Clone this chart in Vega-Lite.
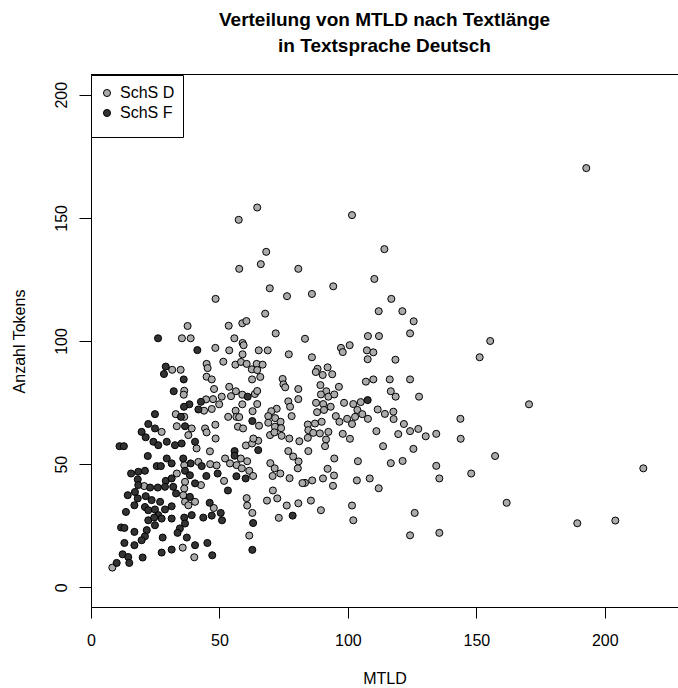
{
"$schema": "https://vega.github.io/schema/vega-lite/v6.json",
"width": 587, "height": 532,
"autosize": "none",
"padding": {"left": 91, "top": 75, "right": 0, "bottom": 81},
"background": "white",
"config": {"font": "Liberation Sans", "view": {"stroke": null}},
"title": {"text": ["Verteilung von MTLD nach Textlänge", "in Textsprache Deutsch"], "fontSize": 19, "fontWeight": "bold", "lineHeight": 26, "anchor": "middle", "frame": "group", "offset": 18, "color": "black"},
"data": {"values": [
{"MTLD":192.8,"Tokens":170.2,"Gruppe":"SchS D"},{"MTLD":170.5,"Tokens":74.3,"Gruppe":"SchS D"},{"MTLD":215.0,"Tokens":48.3,"Gruppe":"SchS D"},{"MTLD":189.3,"Tokens":26.0,"Gruppe":"SchS D"},{"MTLD":204.1,"Tokens":27.1,"Gruppe":"SchS D"},
{"MTLD":64.7,"Tokens":154.2,"Gruppe":"SchS D"},{"MTLD":57.5,"Tokens":149.2,"Gruppe":"SchS D"},{"MTLD":101.6,"Tokens":151.1,"Gruppe":"SchS D"},{"MTLD":114.2,"Tokens":137.3,"Gruppe":"SchS D"},{"MTLD":68.2,"Tokens":136.2,"Gruppe":"SchS D"},
{"MTLD":66.1,"Tokens":131.2,"Gruppe":"SchS D"},{"MTLD":57.7,"Tokens":129.3,"Gruppe":"SchS D"},{"MTLD":80.7,"Tokens":129.3,"Gruppe":"SchS D"},{"MTLD":110.3,"Tokens":125.2,"Gruppe":"SchS D"},{"MTLD":94.3,"Tokens":122.2,"Gruppe":"SchS D"},
{"MTLD":69.6,"Tokens":121.4,"Gruppe":"SchS D"},{"MTLD":125.6,"Tokens":108.0,"Gruppe":"SchS D"},{"MTLD":124.2,"Tokens":103.1,"Gruppe":"SchS D"},{"MTLD":155.4,"Tokens":100.0,"Gruppe":"SchS D"},{"MTLD":151.3,"Tokens":93.4,"Gruppe":"SchS D"},
{"MTLD":124.2,"Tokens":84.4,"Gruppe":"SchS D"},{"MTLD":127.7,"Tokens":77.4,"Gruppe":"SchS D"},{"MTLD":143.8,"Tokens":68.4,"Gruppe":"SchS D"},{"MTLD":124.2,"Tokens":63.4,"Gruppe":"SchS D"},{"MTLD":127.4,"Tokens":64.3,"Gruppe":"SchS D"},
{"MTLD":130.3,"Tokens":61.3,"Gruppe":"SchS D"},{"MTLD":134.4,"Tokens":62.3,"Gruppe":"SchS D"},{"MTLD":143.9,"Tokens":60.3,"Gruppe":"SchS D"},{"MTLD":125.5,"Tokens":56.2,"Gruppe":"SchS D"},{"MTLD":157.3,"Tokens":53.3,"Gruppe":"SchS D"},
{"MTLD":134.4,"Tokens":49.3,"Gruppe":"SchS D"},{"MTLD":135.6,"Tokens":44.2,"Gruppe":"SchS D"},{"MTLD":148.0,"Tokens":46.2,"Gruppe":"SchS D"},{"MTLD":161.8,"Tokens":34.3,"Gruppe":"SchS D"},{"MTLD":126.0,"Tokens":30.2,"Gruppe":"SchS D"},
{"MTLD":124.2,"Tokens":21.1,"Gruppe":"SchS D"},{"MTLD":135.6,"Tokens":22.1,"Gruppe":"SchS D"},{"MTLD":86.0,"Tokens":119.1,"Gruppe":"SchS D"},{"MTLD":116.9,"Tokens":117.1,"Gruppe":"SchS D"},{"MTLD":112.0,"Tokens":112.1,"Gruppe":"SchS D"},
{"MTLD":121.2,"Tokens":112.1,"Gruppe":"SchS D"},{"MTLD":107.8,"Tokens":102.0,"Gruppe":"SchS D"},{"MTLD":112.1,"Tokens":102.0,"Gruppe":"SchS D"},{"MTLD":83.3,"Tokens":100.9,"Gruppe":"SchS D"},{"MTLD":100.7,"Tokens":98.3,"Gruppe":"SchS D"},
{"MTLD":97.3,"Tokens":97.2,"Gruppe":"SchS D"},{"MTLD":98.0,"Tokens":95.5,"Gruppe":"SchS D"},{"MTLD":107.4,"Tokens":96.2,"Gruppe":"SchS D"},{"MTLD":109.9,"Tokens":95.4,"Gruppe":"SchS D"},{"MTLD":107.7,"Tokens":92.6,"Gruppe":"SchS D"},
{"MTLD":118.5,"Tokens":92.4,"Gruppe":"SchS D"},{"MTLD":86.0,"Tokens":93.4,"Gruppe":"SchS D"},{"MTLD":88.2,"Tokens":88.7,"Gruppe":"SchS D"},{"MTLD":92.1,"Tokens":89.3,"Gruppe":"SchS D"},{"MTLD":87.5,"Tokens":87.4,"Gruppe":"SchS D"},
{"MTLD":90.2,"Tokens":86.2,"Gruppe":"SchS D"},{"MTLD":93.9,"Tokens":86.5,"Gruppe":"SchS D"},{"MTLD":89.3,"Tokens":82.1,"Gruppe":"SchS D"},{"MTLD":96.5,"Tokens":81.4,"Gruppe":"SchS D"},{"MTLD":107.0,"Tokens":83.5,"Gruppe":"SchS D"},
{"MTLD":109.9,"Tokens":84.4,"Gruppe":"SchS D"},{"MTLD":116.3,"Tokens":84.4,"Gruppe":"SchS D"},{"MTLD":116.7,"Tokens":79.6,"Gruppe":"SchS D"},{"MTLD":118.6,"Tokens":77.4,"Gruppe":"SchS D"},{"MTLD":91.6,"Tokens":79.6,"Gruppe":"SchS D"},
{"MTLD":89.5,"Tokens":78.3,"Gruppe":"SchS D"},{"MTLD":92.4,"Tokens":77.4,"Gruppe":"SchS D"},{"MTLD":94.7,"Tokens":78.3,"Gruppe":"SchS D"},{"MTLD":87.6,"Tokens":74.9,"Gruppe":"SchS D"},{"MTLD":90.4,"Tokens":74.4,"Gruppe":"SchS D"},
{"MTLD":93.3,"Tokens":73.3,"Gruppe":"SchS D"},{"MTLD":98.5,"Tokens":74.9,"Gruppe":"SchS D"},{"MTLD":102.1,"Tokens":74.4,"Gruppe":"SchS D"},{"MTLD":105.0,"Tokens":75.2,"Gruppe":"SchS D"},{"MTLD":88.0,"Tokens":71.1,"Gruppe":"SchS D"},
{"MTLD":90.7,"Tokens":72.0,"Gruppe":"SchS D"},{"MTLD":95.3,"Tokens":69.5,"Gruppe":"SchS D"},{"MTLD":96.7,"Tokens":67.2,"Gruppe":"SchS D"},{"MTLD":99.7,"Tokens":68.4,"Gruppe":"SchS D"},{"MTLD":102.8,"Tokens":69.2,"Gruppe":"SchS D"},
{"MTLD":103.7,"Tokens":72.0,"Gruppe":"SchS D"},{"MTLD":105.6,"Tokens":70.3,"Gruppe":"SchS D"},{"MTLD":107.8,"Tokens":68.4,"Gruppe":"SchS D"},{"MTLD":101.6,"Tokens":66.3,"Gruppe":"SchS D"},{"MTLD":111.6,"Tokens":72.2,"Gruppe":"SchS D"},
{"MTLD":114.4,"Tokens":70.4,"Gruppe":"SchS D"},{"MTLD":117.7,"Tokens":71.3,"Gruppe":"SchS D"},{"MTLD":117.8,"Tokens":68.3,"Gruppe":"SchS D"},{"MTLD":121.8,"Tokens":66.3,"Gruppe":"SchS D"},{"MTLD":119.6,"Tokens":62.2,"Gruppe":"SchS D"},
{"MTLD":111.1,"Tokens":63.4,"Gruppe":"SchS D"},{"MTLD":98.0,"Tokens":62.3,"Gruppe":"SchS D"},{"MTLD":100.8,"Tokens":60.3,"Gruppe":"SchS D"},{"MTLD":84.4,"Tokens":66.1,"Gruppe":"SchS D"},{"MTLD":87.2,"Tokens":66.5,"Gruppe":"SchS D"},
{"MTLD":89.8,"Tokens":67.2,"Gruppe":"SchS D"},{"MTLD":84.6,"Tokens":63.8,"Gruppe":"SchS D"},{"MTLD":86.5,"Tokens":62.7,"Gruppe":"SchS D"},{"MTLD":89.1,"Tokens":62.5,"Gruppe":"SchS D"},{"MTLD":92.4,"Tokens":63.1,"Gruppe":"SchS D"},
{"MTLD":91.5,"Tokens":60.0,"Gruppe":"SchS D"},{"MTLD":84.4,"Tokens":60.7,"Gruppe":"SchS D"},{"MTLD":84.6,"Tokens":55.3,"Gruppe":"SchS D"},{"MTLD":91.1,"Tokens":57.3,"Gruppe":"SchS D"},{"MTLD":113.7,"Tokens":57.3,"Gruppe":"SchS D"},
{"MTLD":94.7,"Tokens":52.3,"Gruppe":"SchS D"},{"MTLD":103.9,"Tokens":51.2,"Gruppe":"SchS D"},{"MTLD":116.7,"Tokens":50.4,"Gruppe":"SchS D"},{"MTLD":121.3,"Tokens":51.3,"Gruppe":"SchS D"},{"MTLD":92.1,"Tokens":48.1,"Gruppe":"SchS D"},
{"MTLD":94.6,"Tokens":45.4,"Gruppe":"SchS D"},{"MTLD":90.3,"Tokens":44.2,"Gruppe":"SchS D"},{"MTLD":86.1,"Tokens":43.4,"Gruppe":"SchS D"},{"MTLD":83.3,"Tokens":42.4,"Gruppe":"SchS D"},{"MTLD":94.2,"Tokens":41.2,"Gruppe":"SchS D"},
{"MTLD":103.5,"Tokens":43.4,"Gruppe":"SchS D"},{"MTLD":108.5,"Tokens":44.2,"Gruppe":"SchS D"},{"MTLD":112.0,"Tokens":40.2,"Gruppe":"SchS D"},{"MTLD":85.6,"Tokens":35.2,"Gruppe":"SchS D"},{"MTLD":89.5,"Tokens":31.3,"Gruppe":"SchS D"},
{"MTLD":101.6,"Tokens":33.2,"Gruppe":"SchS D"},{"MTLD":102.1,"Tokens":27.2,"Gruppe":"SchS D"},{"MTLD":48.5,"Tokens":117.1,"Gruppe":"SchS D"},{"MTLD":76.3,"Tokens":118.2,"Gruppe":"SchS D"},{"MTLD":67.8,"Tokens":111.1,"Gruppe":"SchS D"},
{"MTLD":53.6,"Tokens":106.2,"Gruppe":"SchS D"},{"MTLD":58.9,"Tokens":107.2,"Gruppe":"SchS D"},{"MTLD":60.5,"Tokens":108.1,"Gruppe":"SchS D"},{"MTLD":71.9,"Tokens":103.1,"Gruppe":"SchS D"},{"MTLD":55.8,"Tokens":101.1,"Gruppe":"SchS D"},
{"MTLD":59.0,"Tokens":99.2,"Gruppe":"SchS D"},{"MTLD":59.4,"Tokens":98.3,"Gruppe":"SchS D"},{"MTLD":48.4,"Tokens":97.2,"Gruppe":"SchS D"},{"MTLD":53.8,"Tokens":96.2,"Gruppe":"SchS D"},{"MTLD":59.0,"Tokens":94.6,"Gruppe":"SchS D"},
{"MTLD":65.3,"Tokens":96.2,"Gruppe":"SchS D"},{"MTLD":68.8,"Tokens":96.2,"Gruppe":"SchS D"},{"MTLD":77.0,"Tokens":94.6,"Gruppe":"SchS D"},{"MTLD":51.5,"Tokens":91.6,"Gruppe":"SchS D"},{"MTLD":45.0,"Tokens":90.7,"Gruppe":"SchS D"},
{"MTLD":45.4,"Tokens":89.0,"Gruppe":"SchS D"},{"MTLD":56.2,"Tokens":90.4,"Gruppe":"SchS D"},{"MTLD":58.4,"Tokens":91.5,"Gruppe":"SchS D"},{"MTLD":60.6,"Tokens":90.7,"Gruppe":"SchS D"},{"MTLD":64.5,"Tokens":90.7,"Gruppe":"SchS D"},
{"MTLD":66.8,"Tokens":90.4,"Gruppe":"SchS D"},{"MTLD":62.6,"Tokens":88.5,"Gruppe":"SchS D"},{"MTLD":64.7,"Tokens":88.2,"Gruppe":"SchS D"},{"MTLD":45.0,"Tokens":85.5,"Gruppe":"SchS D"},{"MTLD":47.0,"Tokens":84.4,"Gruppe":"SchS D"},
{"MTLD":62.7,"Tokens":84.4,"Gruppe":"SchS D"},{"MTLD":65.9,"Tokens":85.4,"Gruppe":"SchS D"},{"MTLD":74.6,"Tokens":84.6,"Gruppe":"SchS D"},{"MTLD":74.9,"Tokens":82.4,"Gruppe":"SchS D"},{"MTLD":75.6,"Tokens":81.2,"Gruppe":"SchS D"},
{"MTLD":47.9,"Tokens":80.5,"Gruppe":"SchS D"},{"MTLD":53.8,"Tokens":81.4,"Gruppe":"SchS D"},{"MTLD":56.4,"Tokens":79.6,"Gruppe":"SchS D"},{"MTLD":58.9,"Tokens":78.2,"Gruppe":"SchS D"},{"MTLD":63.8,"Tokens":78.5,"Gruppe":"SchS D"},
{"MTLD":64.7,"Tokens":79.7,"Gruppe":"SchS D"},{"MTLD":44.8,"Tokens":76.3,"Gruppe":"SchS D"},{"MTLD":47.5,"Tokens":76.4,"Gruppe":"SchS D"},{"MTLD":50.9,"Tokens":77.4,"Gruppe":"SchS D"},{"MTLD":47.0,"Tokens":72.4,"Gruppe":"SchS D"},
{"MTLD":49.9,"Tokens":74.3,"Gruppe":"SchS D"},{"MTLD":44.0,"Tokens":71.7,"Gruppe":"SchS D"},{"MTLD":54.5,"Tokens":77.6,"Gruppe":"SchS D"},{"MTLD":58.9,"Tokens":74.3,"Gruppe":"SchS D"},{"MTLD":62.9,"Tokens":71.5,"Gruppe":"SchS D"},
{"MTLD":64.7,"Tokens":74.4,"Gruppe":"SchS D"},{"MTLD":80.7,"Tokens":80.5,"Gruppe":"SchS D"},{"MTLD":80.7,"Tokens":76.4,"Gruppe":"SchS D"},{"MTLD":76.8,"Tokens":75.5,"Gruppe":"SchS D"},{"MTLD":77.5,"Tokens":73.3,"Gruppe":"SchS D"},
{"MTLD":72.3,"Tokens":72.5,"Gruppe":"SchS D"},{"MTLD":70.2,"Tokens":71.5,"Gruppe":"SchS D"},{"MTLD":78.1,"Tokens":69.5,"Gruppe":"SchS D"},{"MTLD":56.3,"Tokens":71.7,"Gruppe":"SchS D"},{"MTLD":56.6,"Tokens":69.2,"Gruppe":"SchS D"},
{"MTLD":53.4,"Tokens":69.2,"Gruppe":"SchS D"},{"MTLD":57.7,"Tokens":69.1,"Gruppe":"SchS D"},{"MTLD":65.4,"Tokens":65.6,"Gruppe":"SchS D"},{"MTLD":69.0,"Tokens":69.5,"Gruppe":"SchS D"},{"MTLD":71.7,"Tokens":68.7,"Gruppe":"SchS D"},
{"MTLD":69.0,"Tokens":66.8,"Gruppe":"SchS D"},{"MTLD":73.8,"Tokens":67.2,"Gruppe":"SchS D"},{"MTLD":71.6,"Tokens":65.2,"Gruppe":"SchS D"},{"MTLD":74.0,"Tokens":64.6,"Gruppe":"SchS D"},{"MTLD":57.2,"Tokens":65.2,"Gruppe":"SchS D"},
{"MTLD":59.2,"Tokens":64.5,"Gruppe":"SchS D"},{"MTLD":48.4,"Tokens":66.0,"Gruppe":"SchS D"},{"MTLD":44.4,"Tokens":64.5,"Gruppe":"SchS D"},{"MTLD":45.0,"Tokens":62.9,"Gruppe":"SchS D"},{"MTLD":48.5,"Tokens":60.4,"Gruppe":"SchS D"},
{"MTLD":46.3,"Tokens":55.2,"Gruppe":"SchS D"},{"MTLD":60.3,"Tokens":57.6,"Gruppe":"SchS D"},{"MTLD":62.7,"Tokens":58.4,"Gruppe":"SchS D"},{"MTLD":65.1,"Tokens":59.5,"Gruppe":"SchS D"},{"MTLD":63.2,"Tokens":60.4,"Gruppe":"SchS D"},
{"MTLD":69.7,"Tokens":61.8,"Gruppe":"SchS D"},{"MTLD":71.4,"Tokens":62.9,"Gruppe":"SchS D"},{"MTLD":74.2,"Tokens":61.5,"Gruppe":"SchS D"},{"MTLD":77.2,"Tokens":60.4,"Gruppe":"SchS D"},{"MTLD":81.1,"Tokens":59.3,"Gruppe":"SchS D"},
{"MTLD":76.8,"Tokens":55.3,"Gruppe":"SchS D"},{"MTLD":78.7,"Tokens":53.1,"Gruppe":"SchS D"},{"MTLD":80.8,"Tokens":51.1,"Gruppe":"SchS D"},{"MTLD":80.5,"Tokens":48.3,"Gruppe":"SchS D"},{"MTLD":69.8,"Tokens":50.4,"Gruppe":"SchS D"},
{"MTLD":71.5,"Tokens":48.3,"Gruppe":"SchS D"},{"MTLD":73.7,"Tokens":46.2,"Gruppe":"SchS D"},{"MTLD":70.7,"Tokens":45.2,"Gruppe":"SchS D"},{"MTLD":77.3,"Tokens":44.3,"Gruppe":"SchS D"},{"MTLD":82.3,"Tokens":42.3,"Gruppe":"SchS D"},
{"MTLD":52.2,"Tokens":52.3,"Gruppe":"SchS D"},{"MTLD":54.1,"Tokens":50.3,"Gruppe":"SchS D"},{"MTLD":56.7,"Tokens":49.6,"Gruppe":"SchS D"},{"MTLD":58.3,"Tokens":52.3,"Gruppe":"SchS D"},{"MTLD":60.8,"Tokens":51.2,"Gruppe":"SchS D"},
{"MTLD":58.7,"Tokens":48.3,"Gruppe":"SchS D"},{"MTLD":61.6,"Tokens":47.3,"Gruppe":"SchS D"},{"MTLD":63.1,"Tokens":45.2,"Gruppe":"SchS D"},{"MTLD":46.4,"Tokens":50.0,"Gruppe":"SchS D"},{"MTLD":48.9,"Tokens":49.5,"Gruppe":"SchS D"},
{"MTLD":51.8,"Tokens":43.2,"Gruppe":"SchS D"},{"MTLD":60.6,"Tokens":36.2,"Gruppe":"SchS D"},{"MTLD":60.8,"Tokens":33.2,"Gruppe":"SchS D"},{"MTLD":62.8,"Tokens":30.2,"Gruppe":"SchS D"},{"MTLD":61.6,"Tokens":21.0,"Gruppe":"SchS D"},
{"MTLD":70.8,"Tokens":39.3,"Gruppe":"SchS D"},{"MTLD":72.5,"Tokens":36.1,"Gruppe":"SchS D"},{"MTLD":68.5,"Tokens":35.2,"Gruppe":"SchS D"},{"MTLD":76.2,"Tokens":33.2,"Gruppe":"SchS D"},{"MTLD":80.7,"Tokens":34.1,"Gruppe":"SchS D"},
{"MTLD":73.1,"Tokens":28.2,"Gruppe":"SchS D"},{"MTLD":47.8,"Tokens":32.2,"Gruppe":"SchS D"},{"MTLD":27.5,"Tokens":63.1,"Gruppe":"SchS D"},{"MTLD":37.9,"Tokens":61.8,"Gruppe":"SchS D"},{"MTLD":41.1,"Tokens":56.4,"Gruppe":"SchS D"},
{"MTLD":36.3,"Tokens":49.6,"Gruppe":"SchS D"},{"MTLD":41.8,"Tokens":50.9,"Gruppe":"SchS D"},{"MTLD":33.4,"Tokens":46.2,"Gruppe":"SchS D"},{"MTLD":36.6,"Tokens":42.8,"Gruppe":"SchS D"},{"MTLD":42.8,"Tokens":41.5,"Gruppe":"SchS D"},
{"MTLD":20.7,"Tokens":41.1,"Gruppe":"SchS D"},{"MTLD":36.3,"Tokens":40.1,"Gruppe":"SchS D"},{"MTLD":35.9,"Tokens":37.4,"Gruppe":"SchS D"},{"MTLD":40.5,"Tokens":34.7,"Gruppe":"SchS D"},{"MTLD":36.6,"Tokens":34.7,"Gruppe":"SchS D"},
{"MTLD":37.9,"Tokens":33.3,"Gruppe":"SchS D"},{"MTLD":35.7,"Tokens":16.1,"Gruppe":"SchS D"},{"MTLD":40.2,"Tokens":12.2,"Gruppe":"SchS D"},{"MTLD":8.3,"Tokens":8.0,"Gruppe":"SchS D"},{"MTLD":37.6,"Tokens":106.1,"Gruppe":"SchS D"},
{"MTLD":35.4,"Tokens":101.1,"Gruppe":"SchS D"},{"MTLD":38.8,"Tokens":101.1,"Gruppe":"SchS D"},{"MTLD":31.6,"Tokens":88.3,"Gruppe":"SchS D"},{"MTLD":34.9,"Tokens":88.3,"Gruppe":"SchS D"},{"MTLD":36.3,"Tokens":79.8,"Gruppe":"SchS D"},
{"MTLD":36.1,"Tokens":78.2,"Gruppe":"SchS D"},{"MTLD":33.0,"Tokens":70.3,"Gruppe":"SchS D"},{"MTLD":36.3,"Tokens":69.2,"Gruppe":"SchS D"},{"MTLD":33.4,"Tokens":65.4,"Gruppe":"SchS D"},{"MTLD":39.2,"Tokens":64.5,"Gruppe":"SchS D"},
{"MTLD":26.1,"Tokens":101.1,"Gruppe":"SchS F"},{"MTLD":41.4,"Tokens":96.3,"Gruppe":"SchS F"},{"MTLD":29.1,"Tokens":89.6,"Gruppe":"SchS F"},{"MTLD":28.4,"Tokens":86.6,"Gruppe":"SchS F"},{"MTLD":36.1,"Tokens":84.4,"Gruppe":"SchS F"},
{"MTLD":32.2,"Tokens":79.6,"Gruppe":"SchS F"},{"MTLD":38.3,"Tokens":74.3,"Gruppe":"SchS F"},{"MTLD":36.2,"Tokens":73.3,"Gruppe":"SchS F"},{"MTLD":42.8,"Tokens":75.3,"Gruppe":"SchS F"},{"MTLD":41.8,"Tokens":72.2,"Gruppe":"SchS F"},
{"MTLD":24.9,"Tokens":70.3,"Gruppe":"SchS F"},{"MTLD":35.0,"Tokens":69.2,"Gruppe":"SchS F"},{"MTLD":22.3,"Tokens":66.3,"Gruppe":"SchS F"},{"MTLD":24.9,"Tokens":64.5,"Gruppe":"SchS F"},{"MTLD":36.6,"Tokens":65.4,"Gruppe":"SchS F"},
{"MTLD":19.7,"Tokens":63.1,"Gruppe":"SchS F"},{"MTLD":21.3,"Tokens":60.9,"Gruppe":"SchS F"},{"MTLD":24.3,"Tokens":59.1,"Gruppe":"SchS F"},{"MTLD":26.2,"Tokens":57.7,"Gruppe":"SchS F"},{"MTLD":29.5,"Tokens":59.1,"Gruppe":"SchS F"},
{"MTLD":32.7,"Tokens":57.7,"Gruppe":"SchS F"},{"MTLD":35.3,"Tokens":58.4,"Gruppe":"SchS F"},{"MTLD":40.5,"Tokens":59.1,"Gruppe":"SchS F"},{"MTLD":11.1,"Tokens":57.3,"Gruppe":"SchS F"},{"MTLD":12.8,"Tokens":57.3,"Gruppe":"SchS F"},
{"MTLD":22.1,"Tokens":53.3,"Gruppe":"SchS F"},{"MTLD":29.5,"Tokens":52.3,"Gruppe":"SchS F"},{"MTLD":31.4,"Tokens":50.3,"Gruppe":"SchS F"},{"MTLD":35.9,"Tokens":52.3,"Gruppe":"SchS F"},{"MTLD":38.8,"Tokens":50.3,"Gruppe":"SchS F"},
{"MTLD":43.1,"Tokens":49.2,"Gruppe":"SchS F"},{"MTLD":25.6,"Tokens":49.2,"Gruppe":"SchS F"},{"MTLD":27.2,"Tokens":49.2,"Gruppe":"SchS F"},{"MTLD":36.6,"Tokens":47.3,"Gruppe":"SchS F"},{"MTLD":38.5,"Tokens":45.5,"Gruppe":"SchS F"},
{"MTLD":15.6,"Tokens":46.2,"Gruppe":"SchS F"},{"MTLD":18.4,"Tokens":46.9,"Gruppe":"SchS F"},{"MTLD":21.0,"Tokens":47.3,"Gruppe":"SchS F"},{"MTLD":18.2,"Tokens":43.8,"Gruppe":"SchS F"},{"MTLD":29.1,"Tokens":43.2,"Gruppe":"SchS F"},
{"MTLD":31.4,"Tokens":44.2,"Gruppe":"SchS F"},{"MTLD":40.5,"Tokens":42.2,"Gruppe":"SchS F"},{"MTLD":18.4,"Tokens":41.5,"Gruppe":"SchS F"},{"MTLD":23.0,"Tokens":40.5,"Gruppe":"SchS F"},{"MTLD":26.0,"Tokens":40.5,"Gruppe":"SchS F"},
{"MTLD":28.8,"Tokens":40.8,"Gruppe":"SchS F"},{"MTLD":32.0,"Tokens":40.8,"Gruppe":"SchS F"},{"MTLD":33.1,"Tokens":38.1,"Gruppe":"SchS F"},{"MTLD":14.3,"Tokens":37.4,"Gruppe":"SchS F"},{"MTLD":17.1,"Tokens":38.7,"Gruppe":"SchS F"},
{"MTLD":18.2,"Tokens":36.1,"Gruppe":"SchS F"},{"MTLD":21.3,"Tokens":37.0,"Gruppe":"SchS F"},{"MTLD":23.6,"Tokens":35.4,"Gruppe":"SchS F"},{"MTLD":26.9,"Tokens":34.7,"Gruppe":"SchS F"},{"MTLD":38.5,"Tokens":36.7,"Gruppe":"SchS F"},
{"MTLD":16.9,"Tokens":33.3,"Gruppe":"SchS F"},{"MTLD":21.0,"Tokens":32.6,"Gruppe":"SchS F"},{"MTLD":22.3,"Tokens":31.3,"Gruppe":"SchS F"},{"MTLD":24.9,"Tokens":31.6,"Gruppe":"SchS F"},{"MTLD":31.4,"Tokens":32.9,"Gruppe":"SchS F"},
{"MTLD":13.6,"Tokens":30.6,"Gruppe":"SchS F"},{"MTLD":28.8,"Tokens":31.6,"Gruppe":"SchS F"},{"MTLD":26.2,"Tokens":29.3,"Gruppe":"SchS F"},{"MTLD":22.3,"Tokens":27.2,"Gruppe":"SchS F"},{"MTLD":24.6,"Tokens":28.3,"Gruppe":"SchS F"},
{"MTLD":27.5,"Tokens":27.9,"Gruppe":"SchS F"},{"MTLD":31.4,"Tokens":27.9,"Gruppe":"SchS F"},{"MTLD":36.3,"Tokens":28.3,"Gruppe":"SchS F"},{"MTLD":39.2,"Tokens":29.3,"Gruppe":"SchS F"},{"MTLD":43.7,"Tokens":28.3,"Gruppe":"SchS F"},
{"MTLD":36.6,"Tokens":25.9,"Gruppe":"SchS F"},{"MTLD":34.6,"Tokens":23.9,"Gruppe":"SchS F"},{"MTLD":24.9,"Tokens":25.2,"Gruppe":"SchS F"},{"MTLD":11.7,"Tokens":24.3,"Gruppe":"SchS F"},{"MTLD":13.0,"Tokens":24.1,"Gruppe":"SchS F"},
{"MTLD":16.9,"Tokens":22.5,"Gruppe":"SchS F"},{"MTLD":21.7,"Tokens":23.2,"Gruppe":"SchS F"},{"MTLD":21.0,"Tokens":20.7,"Gruppe":"SchS F"},{"MTLD":19.7,"Tokens":19.1,"Gruppe":"SchS F"},{"MTLD":27.9,"Tokens":20.2,"Gruppe":"SchS F"},
{"MTLD":33.7,"Tokens":22.1,"Gruppe":"SchS F"},{"MTLD":37.3,"Tokens":20.2,"Gruppe":"SchS F"},{"MTLD":13.0,"Tokens":18.0,"Gruppe":"SchS F"},{"MTLD":16.9,"Tokens":17.1,"Gruppe":"SchS F"},{"MTLD":40.5,"Tokens":17.1,"Gruppe":"SchS F"},
{"MTLD":31.4,"Tokens":15.3,"Gruppe":"SchS F"},{"MTLD":12.3,"Tokens":13.4,"Gruppe":"SchS F"},{"MTLD":14.5,"Tokens":12.3,"Gruppe":"SchS F"},{"MTLD":20.1,"Tokens":12.1,"Gruppe":"SchS F"},{"MTLD":27.5,"Tokens":14.1,"Gruppe":"SchS F"},
{"MTLD":14.9,"Tokens":9.9,"Gruppe":"SchS F"},{"MTLD":10.0,"Tokens":9.9,"Gruppe":"SchS F"},{"MTLD":55.9,"Tokens":55.3,"Gruppe":"SchS F"},{"MTLD":55.9,"Tokens":53.4,"Gruppe":"SchS F"},{"MTLD":65.1,"Tokens":55.7,"Gruppe":"SchS F"},
{"MTLD":60.2,"Tokens":44.2,"Gruppe":"SchS F"},{"MTLD":56.6,"Tokens":45.1,"Gruppe":"SchS F"},{"MTLD":44.9,"Tokens":45.2,"Gruppe":"SchS F"},{"MTLD":49.3,"Tokens":46.2,"Gruppe":"SchS F"},{"MTLD":53.3,"Tokens":39.3,"Gruppe":"SchS F"},
{"MTLD":63.1,"Tokens":26.1,"Gruppe":"SchS F"},{"MTLD":62.8,"Tokens":15.2,"Gruppe":"SchS F"},{"MTLD":78.5,"Tokens":29.1,"Gruppe":"SchS F"},{"MTLD":46.2,"Tokens":34.3,"Gruppe":"SchS F"},{"MTLD":47.0,"Tokens":29.1,"Gruppe":"SchS F"},
{"MTLD":50.5,"Tokens":30.2,"Gruppe":"SchS F"},{"MTLD":51.0,"Tokens":27.2,"Gruppe":"SchS F"},{"MTLD":45.3,"Tokens":18.0,"Gruppe":"SchS F"},{"MTLD":47.2,"Tokens":13.0,"Gruppe":"SchS F"},{"MTLD":61.0,"Tokens":77.4,"Gruppe":"SchS F"},
{"MTLD":62.8,"Tokens":67.5,"Gruppe":"SchS F"},{"MTLD":107.7,"Tokens":76.0,"Gruppe":"SchS F"}
]},
"layer": [
{"mark": {"type": "point", "shape": "circle", "filled": true, "size": 50, "stroke": "black", "strokeWidth": 1, "opacity": 1},
 "encoding": {
  "x": {"field": "MTLD", "type": "quantitative", "scale": {"domain": [0, 228.5], "nice": false, "zero": false},
        "axis": {"title": "MTLD", "values": [0, 50, 100, 150, 200], "grid": false, "tickSize": 11, "tickColor": "black", "domainColor": "black", "labelFontSize": 16, "labelColor": "black", "labelPadding": 27, "labelBaseline": "alphabetic", "labelFlush": false, "labelOverlap": false, "titleFontSize": 16, "titleFontWeight": "normal", "titleColor": "black", "titleBaseline": "alphabetic", "titleAlign": "center", "titleX": 293.5, "titleY": 76}},
  "y": {"field": "Tokens", "type": "quantitative", "scale": {"domain": [-8, 208], "nice": false, "zero": false},
        "axis": {"title": "Anzahl Tokens", "values": [0, 50, 100, 150, 200], "grid": false, "tickSize": 12, "tickColor": "black", "domainColor": "black", "labelFontSize": 16, "labelColor": "black", "labelAngle": 270, "labelAlign": "center", "labelBaseline": "alphabetic", "labelPadding": 13, "labelFlush": false, "labelOverlap": false, "titleFontSize": 16, "titleFontWeight": "normal", "titleColor": "black", "titleAngle": 270, "titleBaseline": "alphabetic", "titleAlign": "center", "titleX": -67, "titleY": 266}},
  "color": {"field": "Gruppe", "type": "nominal", "scale": {"domain": ["SchS D", "SchS F"], "range": ["#ababab", "#333333"]},
        "legend": {"title": "\u00a0", "titleOrient": "bottom", "titleFontSize": 5, "titlePadding": 1, "orient": "none", "legendX": 0, "legendY": 0, "strokeColor": "black", "fillColor": "white", "padding": 8, "cornerRadius": 0, "rowPadding": 0, "clipHeight": 20, "labelFontSize": 16, "labelColor": "black", "labelOffset": 5, "symbolType": "circle", "symbolSize": 50, "symbolStrokeColor": "black", "symbolStrokeWidth": 1, "symbolOpacity": 1, "labelExpr": "datum.label + '\u00a0'"}}
 }},
{"mark": {"type": "rule", "color": "black", "strokeWidth": 1}, "encoding": {"y": {"datum": 208.2, "type": "quantitative"}}}
]
}
